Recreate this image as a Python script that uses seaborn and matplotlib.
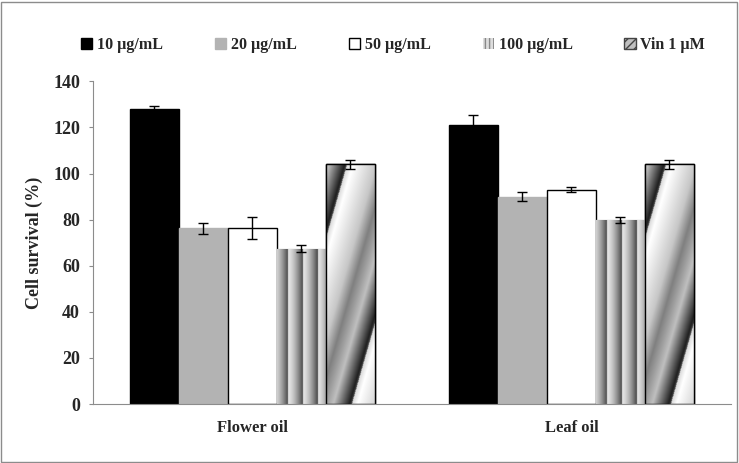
import numpy as np
import pandas as pd
import matplotlib
matplotlib.use("Agg")
import matplotlib.pyplot as plt
from matplotlib.patches import Patch, Rectangle
import seaborn as sns

oils = ["Flower oil", "Leaf oil"]
treatments = ["10 µg/mL", "20 µg/mL", "50 µg/mL", "100 µg/mL", "Vin 1 µM"]
flower_vals = [127.8, 76.2, 76.4, 67.4, 104.0]
flower_err = [1.3, 2.5, 4.7, 1.4, 1.9]
leaf_vals = [120.9, 90.0, 93.0, 79.8, 104.0]
leaf_err = [4.4, 1.9, 1.2, 1.3, 1.9]

df = pd.DataFrame({
    "oil": [o for o in oils for _ in treatments],
    "treatment": treatments * 2,
    "survival": flower_vals + leaf_vals,
    "err": flower_err + leaf_err,
})

sns.set_style("white")
plt.rcParams["font.family"] = ["Liberation Serif", "DejaVu Serif"]
plt.rcParams["font.weight"] = "bold"

fig = plt.figure(figsize=(7.39, 4.63), dpi=100)
ax = fig.add_axes([0.1258, 0.1274, 0.8633, 0.697])

palette = ["black", "#b3b3b3", "white", "#c8c8c8", "#c8c8c8"]
sns.barplot(data=df, x="oil", y="survival", hue="treatment", hue_order=treatments,
            palette=palette, width=0.768, errorbar=None, ax=ax, legend=False, saturation=1)

edges = ["black", "#b3b3b3", "black", "#c8c8c8", "black"]
px_per_unit_y = 2.3
bar_px = 49.0


def texture(kind, h):
    # gradient fill in screen pixels, measured from the bar's top-left corner
    ny = max(int(h * px_per_unit_y), 2)
    xs = np.linspace(0, bar_px, 98)
    ys = np.arange(ny)
    X, Y = np.meshgrid(xs, ys)
    if kind == "vert":
        ph = ((X + 4) / 15.0) % 1.0
        v = 0.9 - 0.62 * ph ** 1.5
    else:
        ph = ((X + 0.29 * Y - 21) / 74.0) % 1.0
        knots_p = [0.0, 0.08, 0.4, 0.55, 0.65, 0.75, 0.97, 1.0]
        knots_v = [0.85, 1.0, 0.78, 0.5, 0.62, 0.75, 0.12, 0.3]
        v = np.interp(ph, knots_p, knots_v)
    return v


bar_conts = list(ax.containers)
for i, cont in enumerate(bar_conts):
    for bar in cont:
        bar.set_edgecolor(edges[i])
        bar.set_linewidth(1.0)
        if i >= 3:
            x0, y0 = bar.get_x(), bar.get_y()
            w, h = bar.get_width(), bar.get_height()
            img = ax.imshow(texture("vert" if i == 3 else "diag", h), cmap="gray",
                            vmin=0, vmax=1, extent=(x0, x0 + w, y0, y0 + h),
                            aspect="auto", origin="upper", zorder=bar.get_zorder(),
                            interpolation="bilinear")
            img.set_clip_path(bar)
            if i == 4:
                ax.add_patch(Rectangle((x0, y0), w, h, fill=False, edgecolor="black",
                                       lw=1.0, zorder=bar.get_zorder() + 0.1))
    xs = [b.get_x() + b.get_width() / 2 for b in cont]
    sub = df[df["treatment"] == treatments[i]]
    ax.errorbar(xs, sub["survival"], yerr=sub["err"], fmt="none", ecolor="black",
                elinewidth=1, capsize=3.5, capthick=1, zorder=5)

ax.set_xlim(-0.5, 1.5)
ax.set_ylim(0, 140)
ax.set_yticks(range(0, 141, 20))
ax.set_xlabel("")
ax.set_ylabel("Cell survival (%)", fontsize=13, fontweight="bold", labelpad=7)
for s in ["top", "right"]:
    ax.spines[s].set_visible(False)
for s in ["left", "bottom"]:
    ax.spines[s].set_color("#8c8c8c")
ax.tick_params(axis="y", left=True, length=3, color="#8c8c8c", labelsize=13, pad=6.3)
ax.tick_params(axis="x", bottom=False, labelsize=12, pad=8)
for t in ax.get_xticklabels() + ax.get_yticklabels():
    t.set_fontweight("bold")

handles = [
    Patch(facecolor="black", edgecolor="black"),
    Patch(facecolor="#b3b3b3", edgecolor="#b3b3b3"),
    Patch(facecolor="white", edgecolor="black"),
    Patch(facecolor="#dddddd", edgecolor="#888888", hatch="||||", lw=0),
    Patch(facecolor="#c0c0c0", edgecolor="#444444", hatch="////"),
]
fig.legend(handles, treatments, loc="center", bbox_to_anchor=(0.532, 0.903), ncol=5,
           frameon=False, handlelength=0.7, handleheight=0.7, handletextpad=0.3,
           columnspacing=3.25, prop={"size": 11.5, "weight": "bold"})

fig.add_artist(Rectangle((0.002, 0.003), 0.995, 0.993, transform=fig.transFigure,
                         fill=False, edgecolor="#8c8c8c", lw=1.0))

fig.savefig("out.png", dpi=100)
